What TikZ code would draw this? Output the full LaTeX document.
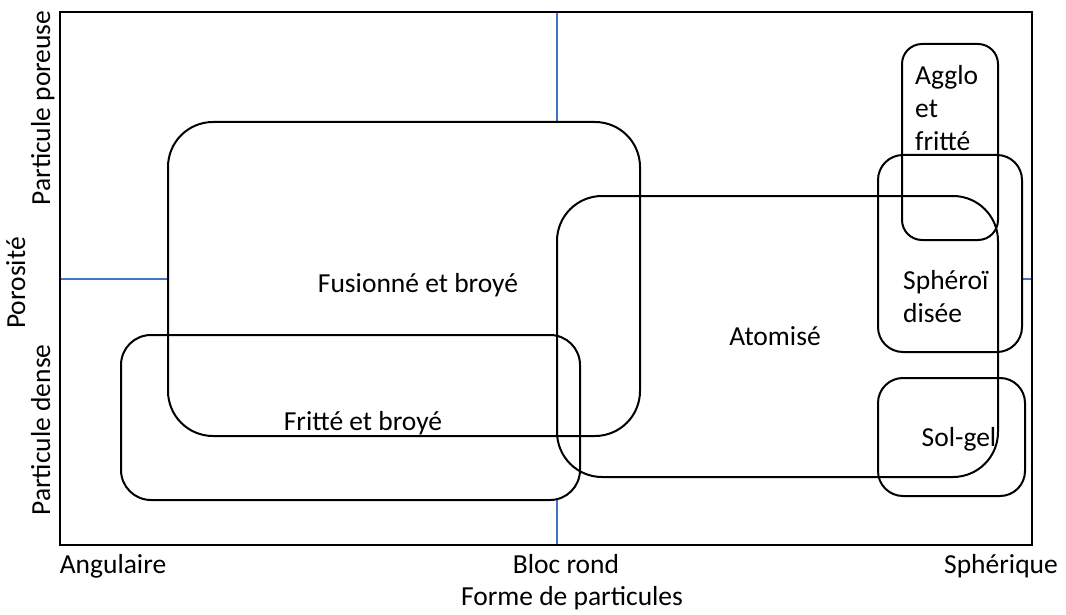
\documentclass[tikz,border=0pt]{standalone}
\usepackage{fontspec}
\setmainfont{Carlito}
\begin{document}
\begin{tikzpicture}[x=1pt,y=-1pt,
  zone/.style={draw=black,line width=2pt,rounded corners=#1},
  zone/.default=40,
  axisline/.style={draw=black,line width=2.5pt},
  divider/.style={draw={rgb,255:red,68;green,114;blue,196},line width=1.1pt},
  lbl/.style={inner sep=0pt,anchor=base,font=\fontsize{27.5}{33}\selectfont},
  mlbl/.style={lbl,align=left,anchor=north west}]
\useasboundingbox (0,0) rectangle (1066,615);

% quadrant dividers
\coordinate (dl0) at (60,279);   \coordinate (dl1) at (168,279);
\coordinate (dr0) at (1022,279); \coordinate (dr1) at (1032,279);
\coordinate (dt0) at (557,12);   \coordinate (dt1) at (557,122);
\coordinate (db0) at (557,500);  \coordinate (db1) at (557,545);
\draw[divider] (dl0) -- (dl1);
\draw[divider] (dr0) -- (dr1);
\draw[divider] (dt0) -- (dt1);
\draw[divider] (db0) -- (db1);

% frame
\draw[axisline] (60,12) rectangle (1032,545);

% process zones
\draw[zone=45] (168,122) rectangle (640,436);
\draw[zone=30] (121,335) rectangle (580,500);
\draw[zone=45] (557,196) rectangle (998,477);
\draw[zone=20] (902,44) rectangle (998,240);
\draw[zone=25] (878,155) rectangle (1022,352);
\draw[zone=25] (878,378) rectangle (1025,496);

% zone labels
\node[lbl] (fus) at (418,292) {Fusionné et broyé};
\node[lbl] (fri) at (363,430) {Fritté et broyé};
\node[lbl] (ato) at (775,345) {Atomisé};
\node[mlbl] (agg) at (915,65) {Agglo\\et\\fritté};
\node[mlbl] (sph) at (903,270) {Sphéroï\\disée};
\node[lbl] (sol) at (959,446) {Sol-gel};

% axis labels
\node[lbl] (ang) at (113,573) {Angulaire};
\node[lbl] (blo) at (566,573) {Bloc rond};
\node[lbl] (sph2) at (1001,573) {Sphérique};
\node[lbl] (for) at (572,605) {Forme de particules};
\node[lbl,rotate=90] (por) at (50,108) {Particule poreuse};
\node[lbl,rotate=90] (poro) at (25,283) {Porosité};
\node[lbl,rotate=90] (den) at (50,430) {Particule dense};
\end{tikzpicture}
\end{document}
